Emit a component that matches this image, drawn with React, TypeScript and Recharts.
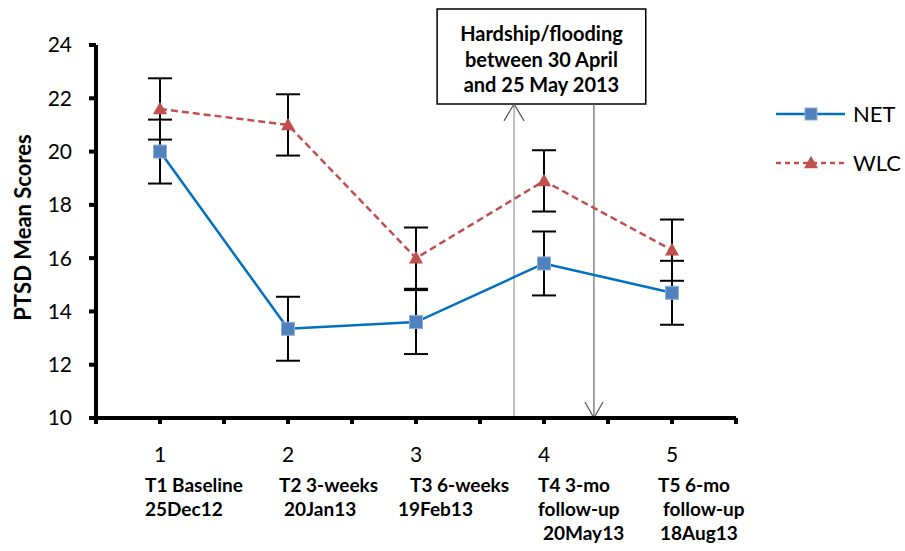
import {
  ErrorBar,
  Legend,
  Line,
  LineChart,
  ReferenceArea,
  ReferenceLine,
  XAxis,
  YAxis,
} from "recharts";

// time points and group means
const timePoints = [1, 2, 3, 4, 5];
const netMeans = [20.0, 13.35, 13.6, 15.8, 14.7];
const netErrors = [1.2, 1.2, 1.2, 1.2, 1.2];
const wlcMeans = [21.6, 21.0, 16.0, 18.9, 16.3];
const wlcErrors = [1.15, 1.15, 1.15, 1.15, 1.15];

const xTicks = [0.5, 1, 1.5, 2, 2.5, 3, 3.5, 4, 4.5, 5, 5.5];
const yTicks = [10, 12, 14, 16, 18, 20, 22, 24];

const timeLabels = [
  ["T1 Baseline", "25Dec12"],
  ["T2 3-weeks", "20Jan13"],
  ["T3 6-weeks", "19Feb13"],
  ["T4 3-mo", "follow-up", "20May13"],
  ["T5 6-mo", "follow-up", "18Aug13"],
];

const annotationLines = ["Hardship/flooding", "between 30 April", "and 25 May 2013"];

// layout only: horizontal nudge of each label line relative to its tick
const labelDx = [
  [-15, -15],
  [-9, -4],
  [-6, -18],
  [-6, -6, -1],
  [-14, -9, -12],
];

const data = timePoints.map((t, i) => ({
  t,
  net: netMeans[i],
  netErr: netErrors[i],
  wlc: wlcMeans[i],
  wlcErr: wlcErrors[i],
}));

const FONT = "Lato, 'Open Sans', sans-serif";
const NET_LINE = "#0070C0";
const NET_MARK = "#4F81BD";
const WLC = "#C0504D";

function Square({ cx, cy, size = 13 }: any) {
  if (cx == null || cy == null) return null;
  return (
    <rect
      x={cx - size / 2}
      y={cy - size / 2}
      width={size}
      height={size}
      fill={NET_MARK}
      stroke="#8eaed8"
      strokeWidth={1}
    />
  );
}

function Triangle({ cx, cy, size = 14 }: any) {
  if (cx == null || cy == null) return null;
  const h = size * 0.9;
  return (
    <polygon
      points={`${cx},${cy - h / 2 - 1} ${cx - size / 2},${cy + h / 2 - 1} ${cx + size / 2},${cy + h / 2 - 1}`}
      fill={WLC}
    />
  );
}

function XTick({ x, y, payload }: any) {
  const v = payload.value;
  if (!Number.isInteger(v)) return <g />;
  const idx = v - 1;
  const lines = timeLabels[idx] || [];
  return (
    <g>
      <text x={x} y={y + 38} textAnchor="middle" fontFamily={FONT} fontSize={21} fill="#000">
        {v}
      </text>
      {lines.map((s, i) => (
        <text
          key={i}
          x={x + labelDx[idx][i]}
          y={y + 68 + i * 24}
          textAnchor="start"
          fontFamily={FONT}
          fontWeight={700}
          fontSize={19}
          fill="#000"
        >
          {s}
        </text>
      ))}
    </g>
  );
}

function YLabel({ viewBox }: any) {
  const cx = viewBox.x + 22;
  const cy = viewBox.y + viewBox.height / 2 - 4;
  return (
    <text
      x={cx}
      y={cy}
      transform={`rotate(-90 ${cx} ${cy})`}
      textAnchor="middle"
      dominantBaseline="central"
      fontFamily={FONT}
      fontWeight={700}
      fontSize={22}
      fill="#000"
    >
      PTSD Mean Scores
    </text>
  );
}

function BoxLabel({ viewBox }: any) {
  const cx = viewBox.x + viewBox.width / 2;
  return (
    <g>
      {annotationLines.map((s, i) => (
        <text
          key={i}
          x={cx}
          y={viewBox.y + 32 + i * 25.5}
          textAnchor="middle"
          fontFamily={FONT}
          fontWeight={700}
          fontSize={20}
          fill="#000"
        >
          {s}
        </text>
      ))}
    </g>
  );
}

function ArrowUp(props: any) {
  const { x1, y1, y2 } = props;
  const top = Math.min(y1, y2);
  const bottom = Math.max(y1, y2);
  return (
    <g stroke="#999" strokeWidth={1.2} fill="none">
      <line x1={x1} y1={bottom} x2={x1} y2={top} />
      <polyline points={`${x1 - 10},${top + 17} ${x1},${top} ${x1 + 10},${top + 17}`} stroke="#555" />
    </g>
  );
}

function ArrowDown(props: any) {
  const { x1, y1, y2 } = props;
  const top = Math.min(y1, y2);
  const bottom = Math.max(y1, y2);
  return (
    <g stroke="#666" strokeWidth={1.2} fill="none">
      <line x1={x1} y1={top} x2={x1} y2={bottom} />
      <polyline points={`${x1 - 9},${bottom - 16} ${x1},${bottom} ${x1 + 9},${bottom - 16}`} stroke="#555" />
    </g>
  );
}

const legendItems = [
  { name: "NET", color: NET_LINE, dash: undefined, marker: "square" },
  { name: "WLC", color: WLC, dash: "5 4", marker: "triangle" },
];

function LegendBox() {
  return (
    <div style={{ fontFamily: FONT, whiteSpace: "nowrap" }}>
      {legendItems.map((it) => (
        <div key={it.name} style={{ display: "flex", alignItems: "center", height: 49 }}>
          <svg width={70} height={24} style={{ flexShrink: 0 }}>
            <line x1={0} y1={12} x2={69} y2={12} stroke={it.color} strokeWidth={2.5} strokeDasharray={it.dash} />
            {it.marker === "square" ? <Square cx={35} cy={12} size={12} /> : <Triangle cx={35} cy={12} size={14} />}
          </svg>
          <span style={{ marginLeft: 7, fontSize: 22, color: "#000" }}>{it.name}</span>
        </div>
      ))}
    </div>
  );
}

export default function App() {
  return (
    <div style={{ position: "absolute", left: 0, top: 0, width: 905, height: 551, background: "#fff" }}>
      <LineChart width={905} height={551} data={data} margin={{ top: 45, right: 169, bottom: 0, left: 0 }}>
        <XAxis
          dataKey="t"
          type="number"
          domain={[0.5, 5.5]}
          ticks={xTicks}
          interval={0}
          height={133}
          tickSize={6}
          tickMargin={0}
          tick={<XTick />}
          axisLine={{ stroke: "#000", strokeWidth: 4 }}
          tickLine={{ stroke: "#000", strokeWidth: 4 }}
        />
        <YAxis
          type="number"
          domain={[10, 24]}
          ticks={yTicks}
          interval={0}
          width={96}
          tickSize={7}
          tickMargin={17}
          tick={{ fontFamily: FONT, fontSize: 21, fill: "#000" }}
          axisLine={{ stroke: "#000", strokeWidth: 4 }}
          tickLine={{ stroke: "#000", strokeWidth: 4 }}
          label={<YLabel />}
        />
        <ReferenceArea
          x1={3.165}
          x2={4.795}
          y1={21.79}
          y2={25.35}
          ifOverflow="visible"
          fill="#fff"
          fillOpacity={1}
          stroke="#000"
          strokeWidth={1.5}
          label={<BoxLabel />}
        />
        <ReferenceLine
          segment={[
            { x: 3.766, y: 10 },
            { x: 3.766, y: 21.79 },
          ]}
          ifOverflow="visible"
          shape={<ArrowUp />}
        />
        <ReferenceLine
          segment={[
            { x: 4.39, y: 21.79 },
            { x: 4.39, y: 10 },
          ]}
          ifOverflow="visible"
          shape={<ArrowDown />}
        />
        <Line
          type="linear"
          dataKey="wlc"
          name="WLC"
          stroke={WLC}
          strokeWidth={2.5}
          strokeDasharray="7 4"
          dot={<Triangle />}
          activeDot={false}
          isAnimationActive={false}
        >
          <ErrorBar dataKey="wlcErr" direction="y" width={12} stroke="#000" strokeWidth={2} />
        </Line>
        <Line
          type="linear"
          dataKey="net"
          name="NET"
          stroke={NET_LINE}
          strokeWidth={2.5}
          dot={<Square />}
          activeDot={false}
          isAnimationActive={false}
        >
          <ErrorBar dataKey="netErr" direction="y" width={12} stroke="#000" strokeWidth={2} />
        </Line>
        <Legend
          layout="horizontal"
          verticalAlign="middle"
          align="center"
          content={<LegendBox />}
          wrapperStyle={{ left: 776, top: 89, width: 129, height: 100, overflow: "visible" }}
        />
      </LineChart>
    </div>
  );
}
